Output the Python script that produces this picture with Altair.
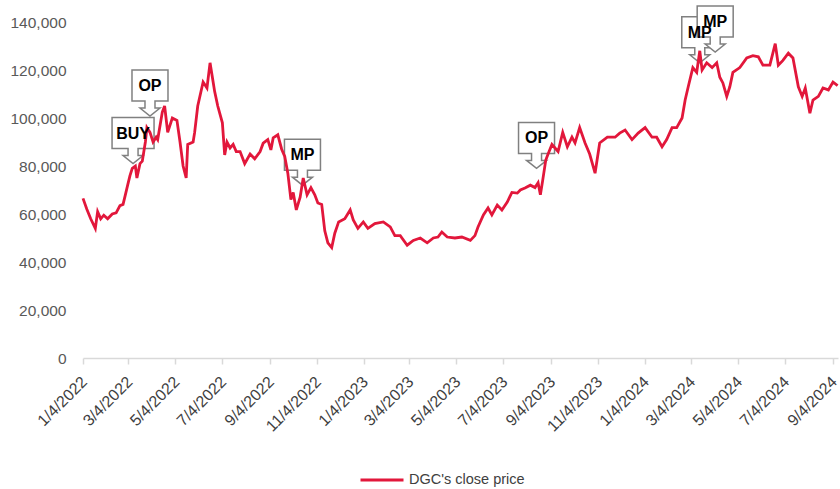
import altair as alt
import pandas as pd

FONT = "Liberation Sans"
RED = "#E2173B"
SERIES = "DGC's close price"
START = "2022-01-04"

# Closing prices (thousand VND), with trading day as days since 2022-01-04
day_offsets = [
    0, 5, 10, 16, 19, 23, 27, 32, 38, 43, 48, 52, 55, 58, 61, 64, 68, 70, 74, 77,
    81, 83, 87, 91, 95, 97, 103, 106, 110, 116, 122, 126, 130, 134, 136, 143, 145, 149, 156, 161,
    165, 169, 171, 175, 181, 184, 187, 191, 195, 199, 204, 210, 217, 223, 230, 234, 240, 244, 247, 253,
    258, 262, 266, 270, 273, 277, 282, 286, 291, 296, 301, 305, 310, 314, 318, 323, 327, 332, 340, 347,
    351, 357, 364, 370, 379, 390, 399, 405, 412, 421, 429, 438, 447, 455, 461, 466, 473, 483, 492, 503,
    509, 513, 520, 526, 531, 538, 544, 551, 557, 564, 568, 574, 581, 587, 591, 594, 597, 601, 604, 609,
    613, 617, 623, 629, 635, 639, 645, 652, 658, 665, 671, 681, 691, 697, 704, 713, 721, 730, 739, 745,
    752, 758, 765, 771, 778, 782, 786, 792, 797, 801, 804, 810, 817, 823, 827, 831, 836, 840, 844, 853,
    862, 870, 877, 883, 892, 899, 903, 909, 916, 922, 929, 934, 938, 944, 948, 955, 961, 968, 974, 980,
]
close_k = [
    66.5, 62, 58, 54, 61, 58, 59.5, 58, 60, 60.5, 63.5, 64, 68, 72, 76, 79, 80, 75, 81, 82,
    90, 96, 94, 90, 92, 91, 102.5, 105, 94, 100, 99, 90, 80, 75, 89, 90, 94, 105, 115, 112.5,
    123, 115, 111, 105, 98, 84.6, 90, 87.5, 89, 86, 86, 81, 85, 83, 86, 89.5, 91, 86.7, 91.7, 93,
    87, 84, 77, 66, 69, 61.7, 67, 75, 68, 71, 68, 64.6, 64, 53, 48, 46, 52, 56.7, 58, 61.7,
    57.5, 54, 56.7, 54, 56, 56.7, 54.6, 51, 51, 47, 49, 50, 48, 50, 50.4, 52.5, 50.4, 50, 50.4, 49,
    51, 54.6, 59.6, 62.5, 59.6, 63.7, 61.7, 65, 69, 68.7, 70, 70.8, 72, 71, 73, 68, 74, 82.5, 85, 89,
    87.5, 86, 94, 88, 92, 89.6, 96, 89.6, 85, 77, 89.6, 92, 92, 93.7, 95, 91, 93.7, 96, 92, 92,
    88, 91, 96, 96, 100, 107.5, 113, 121, 119, 128, 120, 123, 121, 123, 117, 114.6, 109, 113, 119, 121,
    125, 126, 125.5, 122, 122, 131, 122, 124, 127, 125, 113, 109, 112.5, 102, 107.5, 109, 112.5, 111.7, 115, 113.5,
]

# Call-outs (recommendation markers): label, date, price at the arrow tip
callout_labels = ["BUY", "OP", "MP", "OP", "MP", "MP"]
callout_dates = ["2022-03-10", "2022-04-01", "2022-10-16", "2023-08-16", "2024-03-15", "2024-04-04"]
callout_prices = [81000, 100800, 72000, 79000, 123000, 127500]

# Axis ticks
y_ticks = [0, 20000, 40000, 60000, 80000, 100000, 120000, 140000]
x_tick_months = [(2022, 1), (2022, 3), (2022, 5), (2022, 7), (2022, 9), (2022, 11),
                 (2023, 1), (2023, 3), (2023, 5), (2023, 7), (2023, 9), (2023, 11),
                 (2024, 1), (2024, 3), (2024, 5), (2024, 7), (2024, 9)]

dates = (pd.Timestamp(START) + pd.to_timedelta(day_offsets, unit="D")).strftime("%Y-%m-%d")
df = pd.DataFrame({"date": list(dates), "price": [v * 1000 for v in close_k], "series": SERIES})
cdf = pd.DataFrame({"date": callout_dates, "price": callout_prices, "label": callout_labels})

x_values = [alt.DateTime(year=y, month=m, date=4, utc=True) for y, m in x_tick_months]
x_scale = alt.Scale(type="utc", domain=[alt.DateTime(year=2022, month=1, date=4, utc=True),
                                        alt.DateTime(year=2024, month=9, date=10, hours=12, utc=True)])
y_scale = alt.Scale(domain=[0, 140000], nice=False)

x_enc = alt.X("date:T", scale=x_scale, title=None,
              axis=alt.Axis(values=x_values,
                            labelExpr="utcFormat(datum.value, '%-m/%-d/%Y')",
                            labelAngle=-45, labelAlign="right", labelBaseline="middle",
                            grid=False, domainColor="#d9d9d9", domainWidth=1.5,
                            tickColor="#d9d9d9", tickSize=6, tickWidth=1.5,
                            labelFont=FONT, labelFontSize=16, labelColor="#404040",
                            labelPadding=15, labelOffset=1, labelOverlap=False, labelBound=False))
y_enc = alt.Y("price:Q", scale=y_scale, title=None,
              axis=alt.Axis(values=y_ticks, format=",.0f", grid=False, domain=False, ticks=False,
                            labelPadding=17, labelFont=FONT, labelFontSize=15.5,
                            labelColor="#595959"))

line = alt.Chart(df).mark_line(strokeWidth=2.8).encode(
    x=x_enc,
    y=y_enc,
    color=alt.Color("series:N",
                    scale=alt.Scale(domain=[SERIES], range=[RED]),
                    legend=alt.Legend(title=None, orient="none", legendX=276, legendY=435,
                                      symbolType="stroke", symbolSize=1849, symbolStrokeWidth=3,
                                      labelFont=FONT, labelFontSize=14.5, labelColor="#404040",
                                      labelOffset=4, padding=0)),
)


def callout_path(half_w):
    return (f"M {-half_w},-46 L {half_w},-46 L {half_w},-15 L 5,-15 L 5,-8 L 10,-8 "
            f"L 0,0 L -10,-8 L -5,-8 L -5,-15 L {-half_w},-15 Z")


base = alt.Chart(cdf).encode(x=alt.X("date:T", scale=x_scale), y=alt.Y("price:Q", scale=y_scale))
box_wide = base.transform_filter(alt.datum.label == "BUY").mark_point(
    shape=callout_path(21), size=4, filled=True, fill="white", stroke="#808080",
    strokeWidth=1.5, opacity=1)
box_narrow = base.transform_filter(alt.datum.label != "BUY").mark_point(
    shape=callout_path(18), size=4, filled=True, fill="white", stroke="#808080",
    strokeWidth=1.5, opacity=1)
texts = base.mark_text(font=FONT, fontWeight="bold", fontSize=16, color="black",
                       dy=-30, baseline="middle", align="center").encode(text="label:N")

chart = alt.layer(box_wide, box_narrow, line, texts).properties(
    width=755, height=336,
    padding={"left": 83, "top": 22, "right": 2, "bottom": 131},
    autosize=alt.AutoSizeParams(type="none"),
).configure_view(strokeWidth=0)

chart.save("out.html", embed_options={"renderer": "svg", "actions": False})
